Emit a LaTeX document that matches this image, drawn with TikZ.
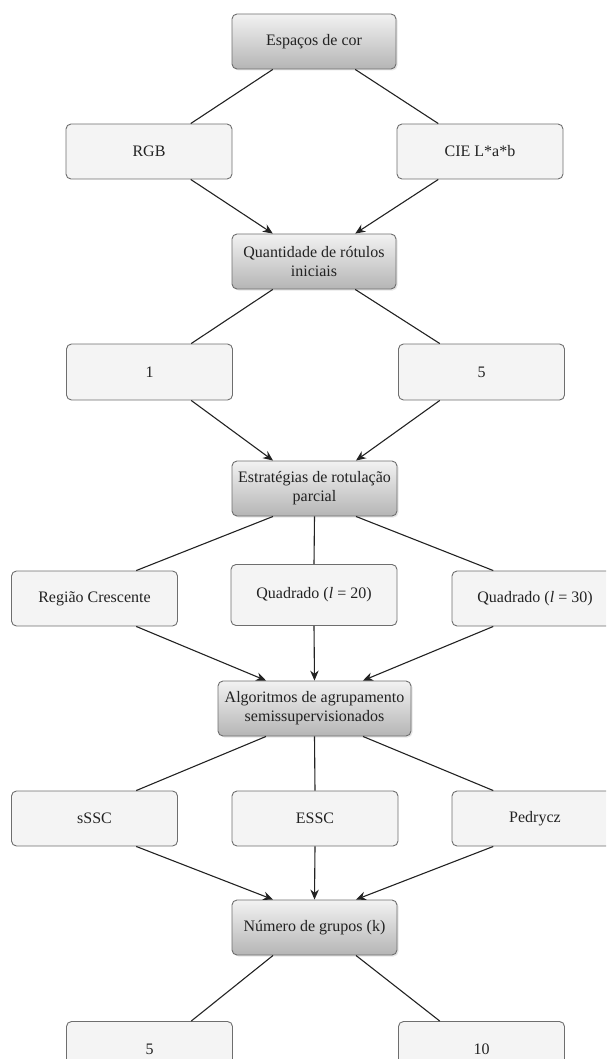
\documentclass[tikz,border=0pt]{standalone}
\usepackage{fontspec}
\setmainfont{Liberation Serif}
\usetikzlibrary{arrows.meta,calc,shadows}
\definecolor{boxborder}{HTML}{6E6E6E}
\definecolor{lightfill}{HTML}{F4F4F4}
\definecolor{gradtop}{HTML}{F2F2F2}
\definecolor{gradbot}{HTML}{B5B5B5}
\definecolor{linecol}{HTML}{222222}
\definecolor{txtcol}{HTML}{222222}
\tikzset{
  basebox/.style={draw=boxborder, line width=0.9pt, rounded corners=5pt, align=center,
    font=\fontsize{16}{19}\selectfont, text=txtcol, inner sep=2pt,
    minimum height=55pt},
  optbox/.style={basebox, fill=lightfill, minimum width=166pt},
  catbox/.style={basebox, top color=gradtop, bottom color=gradbot,
    drop shadow={opacity=0.2, shadow xshift=1.5pt, shadow yshift=-1.5pt}},
  plain/.style={draw=linecol, line width=1.1pt},
  arr/.style={plain, -{Stealth[length=10pt,width=8.5pt]}}
}
\begin{document}
\begin{tikzpicture}[x=1pt,y=-1pt]
\useasboundingbox (0,0) rectangle (606,1059);
\clip (0,0) rectangle (606,1059);
% nodes
\node[catbox, minimum width=164pt] (esp) at (314,41.5) {Espaços de cor};
\node[optbox] (rgb) at (149,151.5) {RGB};
\node[optbox] (cie) at (480,151.5) {CIE L*a*b};
\node[catbox, minimum width=164pt] (qtd) at (314,261.5) {Quantidade de rótulos\\iniciais};
\node[optbox, minimum height=56pt] (one) at (149.5,372) {1};
\node[optbox, minimum height=56pt] (five) at (481.5,372) {5};
\node[catbox, minimum width=165pt] (est) at (314.5,488.5) {Estratégias de rotulação\\parcial};
\node[optbox] (reg) at (94.5,598.5) {Região Crescente};
\node[optbox, minimum height=61pt] (q20) at (314,595) {Quadrado (\textit{l} = 20)};
\node[optbox] (q30) at (535,598.5) {Quadrado (\textit{l} = 30)};
\node[catbox, minimum width=193pt] (alg) at (314.5,708.5) {Algoritmos de agrupamento\\semissupervisionados};
\node[optbox] (sssc) at (94.5,818.5) {sSSC};
\node[optbox] (essc) at (315,818.5) {ESSC};
\node[optbox] (ped) at (535,818.5) {Pedrycz};
\node[catbox, minimum width=165pt] (num) at (314.5,927.5) {Número de grupos (k)};
\node[optbox] (bfive) at (149.5,1049) {5};
\node[optbox] (bten) at (481.5,1049) {10};
% connectors
\draw[plain] ($(esp.south west)!.25!(esp.south east)$) -- ($(rgb.north west)!.75!(rgb.north east)$);
\draw[plain] ($(esp.south west)!.75!(esp.south east)$) -- ($(cie.north west)!.25!(cie.north east)$);
\draw[arr] ($(rgb.south west)!.75!(rgb.south east)$) -- ($(qtd.north west)!.25!(qtd.north east)$);
\draw[arr] ($(cie.south west)!.25!(cie.south east)$) -- ($(qtd.north west)!.75!(qtd.north east)$);
\draw[plain] ($(qtd.south west)!.25!(qtd.south east)$) -- ($(one.north west)!.75!(one.north east)$);
\draw[plain] ($(qtd.south west)!.75!(qtd.south east)$) -- ($(five.north west)!.25!(five.north east)$);
\draw[arr] ($(one.south west)!.75!(one.south east)$) -- ($(est.north west)!.25!(est.north east)$);
\draw[arr] ($(five.south west)!.25!(five.south east)$) -- ($(est.north west)!.75!(est.north east)$);
\draw[plain] ($(est.south west)!.25!(est.south east)$) -- ($(reg.north west)!.75!(reg.north east)$);
\draw[plain] (est.south) -- (q20.north);
\draw[plain] ($(est.south west)!.75!(est.south east)$) -- ($(q30.north west)!.25!(q30.north east)$);
\draw[arr] ($(reg.south west)!.75!(reg.south east)$) -- ($(alg.north west)!.25!(alg.north east)$);
\draw[arr] (q20.south) -- (alg.north);
\draw[arr] ($(q30.south west)!.25!(q30.south east)$) -- ($(alg.north west)!.75!(alg.north east)$);
\draw[plain] ($(alg.south west)!.25!(alg.south east)$) -- ($(sssc.north west)!.75!(sssc.north east)$);
\draw[plain] (alg.south) -- (essc.north);
\draw[plain] ($(alg.south west)!.75!(alg.south east)$) -- ($(ped.north west)!.25!(ped.north east)$);
\draw[arr] ($(sssc.south west)!.75!(sssc.south east)$) -- ($(num.north west)!.25!(num.north east)$);
\draw[arr] (essc.south) -- (num.north);
\draw[arr] ($(ped.south west)!.25!(ped.south east)$) -- ($(num.north west)!.75!(num.north east)$);
\draw[plain] ($(num.south west)!.25!(num.south east)$) -- ($(bfive.north west)!.75!(bfive.north east)$);
\draw[plain] ($(num.south west)!.75!(num.south east)$) -- ($(bten.north west)!.25!(bten.north east)$);
\end{tikzpicture}
\end{document}
